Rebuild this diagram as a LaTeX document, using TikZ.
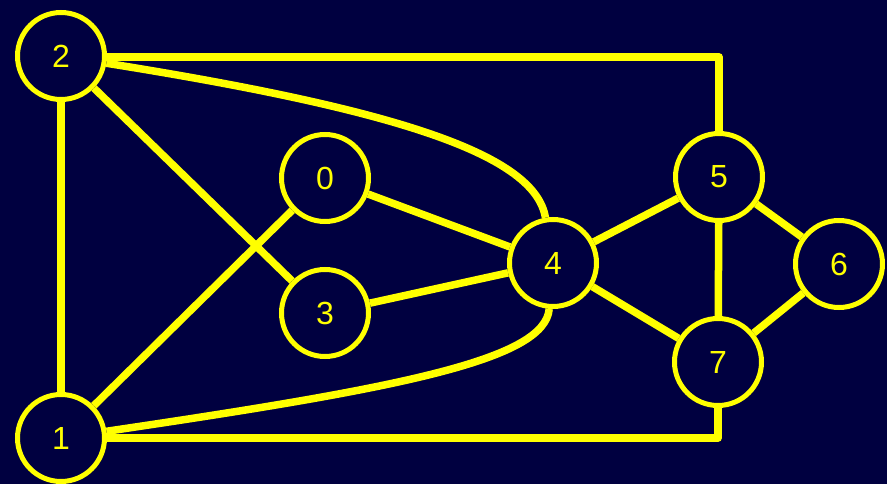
\documentclass[tikz,border=0pt]{standalone}
\usepackage{fontspec}
\setmainfont{Liberation Sans}
\definecolor{bg}{HTML}{000040}
\definecolor{yl}{HTML}{FFFF00}
\begin{document}
\begin{tikzpicture}[x=1pt,y=-1pt,
  vtx/.style={circle,draw=yl,line width=5pt,fill=bg,minimum size=87pt,inner sep=0pt,text=yl,font=\fontsize{32}{32}\selectfont},
  edge/.style={draw=yl,line width=7.5pt,line join=round}]
\fill[bg] (0,0) rectangle (887,484);
\useasboundingbox (0,0) rectangle (887,484);
\node[vtx] (n2) at (61,56) {2};
\node[vtx] (n1) at (61,438) {1};
\node[vtx] (n0) at (325,178) {0};
\node[vtx] (n3) at (325,313) {3};
\node[vtx] (n4) at (553,263) {4};
\node[vtx] (n5) at (719,177) {5};
\node[vtx] (n6) at (839,264) {6};
\node[vtx] (n7) at (718,362) {7};
\draw[edge] (n2) -- (n1);
\draw[edge] (n2) -- (n3);
\draw[edge] (n1) -- (n0);
\draw[edge] (n0) -- (n4);
\draw[edge] (n3) -- (n4);
\draw[edge] (n4) -- (n5);
\draw[edge] (n4) -- (n7);
\draw[edge] (n5) -- (n7);
\draw[edge] (n5) -- (n6);
\draw[edge] (n6) -- (n7);
\draw[edge] (n2.east) ++(0,1) coordinate (a2) -| (n5);
\draw[edge] (n1) -| (n7);
\draw[edge] (n2) .. controls (400,110) and (535,155) .. (n4);
\draw[edge] (n1) .. controls (400,388) and (545,360) .. (n4);
\end{tikzpicture}
\end{document}
